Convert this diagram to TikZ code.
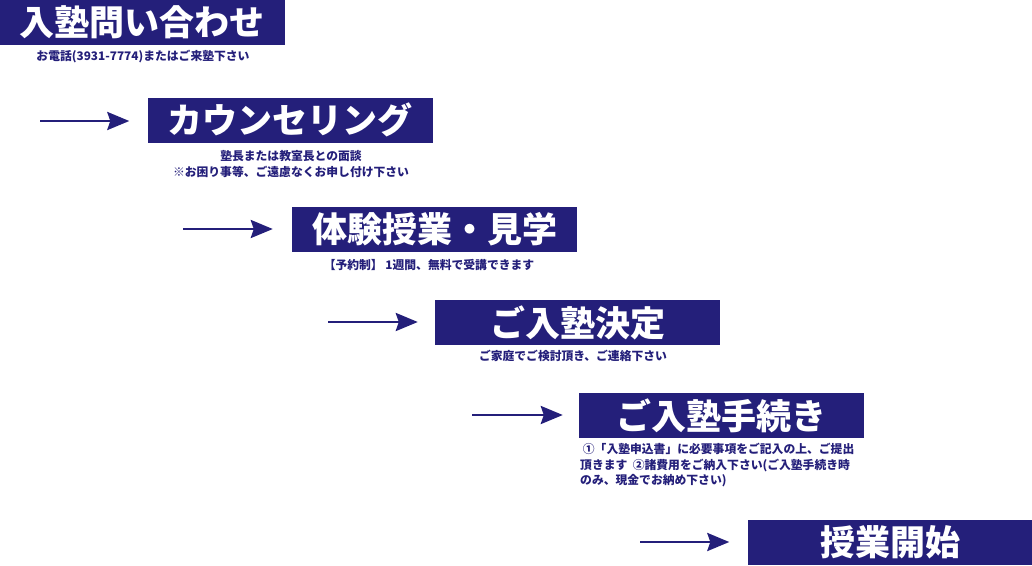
\documentclass[tikz,border=0pt]{standalone}
\usepackage{fontspec}
\newfontfamily\cjk{Noto Sans CJK JP}
\usetikzlibrary{arrows.meta}
\definecolor{navy}{RGB}{36,31,122}
\tikzset{
  stepbox/.style={fill=navy, draw=none, inner sep=0pt, minimum height=45pt, minimum width=285pt, text=white, font=\cjk\bfseries\fontsize{35}{38}\selectfont},
  note/.style={text=navy, inner sep=0pt, font=\cjk\bfseries\fontsize{11.8}{15.5}\selectfont, align=center},
  flow/.style={draw=navy, line width=2.8pt, -{Stealth[length=22pt,width=18pt,inset=3pt]}}
}
\begin{document}
\begin{tikzpicture}[x=1pt,y=-1pt]
\useasboundingbox (0,0) rectangle (1032,565);
\node[stepbox] (b1) at (142,22) {入塾問い合わせ};
\node[stepbox] (b2) at (290,120) {カウンセリング};
\node[stepbox] (b3) at (434.5,229) {体験授業・見学};
\node[stepbox] (b4) at (577.5,322.5) {ご入塾決定};
\node[stepbox] (b5) at (721.5,415.5) {ご入塾手続き};
\node[stepbox] (b6) at (890,542) {授業開始};

\node[note] (t1) at (143,57) {お電話(3931-7774)またはご来塾下さい};
\node[note] (t2) at (291,164) {塾長または教室長との面談\\※お困り事等、ご遠慮なくお申し付け下さい};
\node[note] (t3) at (429,265) {【予約制】 1週間、無料で受講できます};
\node[note] (t4) at (573,356) {ご家庭でご検討頂き、ご連絡下さい};
\node[note, align=left, anchor=north west] (t5) at (580,443) {\ ①「入塾申込書」に必要事項をご記入の上、ご提出\\頂きます\ \ ②諸費用をご納入下さい(ご入塾手続き時\\のみ、現金でお納め下さい)};

\coordinate (a2) at (40,121);
\coordinate (a3) at (183,229);
\coordinate (a4) at (328,322);
\coordinate (a5) at (472,415);
\coordinate (a6) at (640,542);
\draw[flow] (a2) -- ([xshift=-18pt]b2.west |- a2);
\draw[flow] (a3) -- ([xshift=-19pt]b3.west |- a3);
\draw[flow] (a4) -- ([xshift=-17pt]b4.west |- a4);
\draw[flow] (a5) -- ([xshift=-16pt]b5.west |- a5);
\draw[flow] (a6) -- ([xshift=-18pt]b6.west |- a6);
\end{tikzpicture}
\end{document}
